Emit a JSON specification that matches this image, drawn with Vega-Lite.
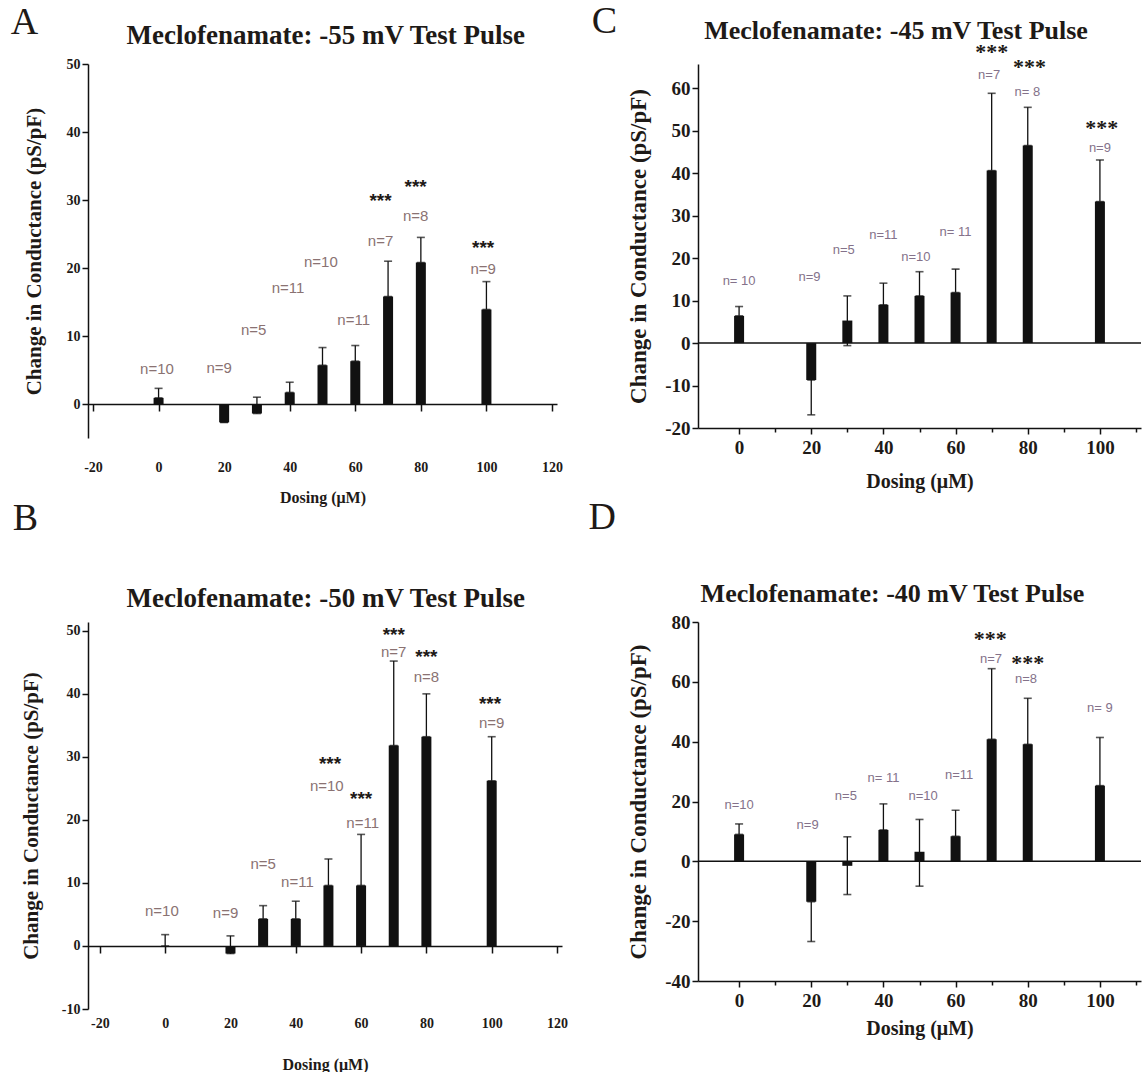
{
  "$schema": "https://vega.github.io/schema/vega-lite/v6.json",
  "background": "white",
  "padding": {"left": 10, "top": 2, "right": 0, "bottom": 0},
  "datasets": {
    "A": [
      {"dose": 0, "mean": 0.9, "lo": 0.9, "hi": 2.3, "n": "n=10", "nx": -0.5, "ny": 5.1, "sx": null, "sy": null},
      {"dose": 20, "mean": -2.7, "lo": -2.7, "hi": -2.7, "n": "n=9", "nx": 18.5, "ny": 5.3, "sx": null, "sy": null},
      {"dose": 30, "mean": -1.4, "lo": -1.4, "hi": 1.0, "n": "n=5", "nx": 29, "ny": 10.9, "sx": null, "sy": null},
      {"dose": 40, "mean": 1.7, "lo": 1.7, "hi": 3.2, "n": "n=11", "nx": 39.5, "ny": 17, "sx": null, "sy": null},
      {"dose": 50, "mean": 5.7, "lo": 5.7, "hi": 8.3, "n": "n=10", "nx": 49.5, "ny": 20.9, "sx": null, "sy": null},
      {"dose": 60, "mean": 6.3, "lo": 6.3, "hi": 8.6, "n": "n=11", "nx": 59.5, "ny": 12.4, "sx": null, "sy": null},
      {"dose": 70, "mean": 15.8, "lo": 15.8, "hi": 21.0, "n": "n=7", "nx": 67.7, "ny": 24, "sx": 67.7, "sy": 29.8},
      {"dose": 80, "mean": 20.8, "lo": 20.8, "hi": 24.5, "n": "n=8", "nx": 78.4, "ny": 27.7, "sx": 78.4, "sy": 31.9},
      {"dose": 100, "mean": 13.9, "lo": 13.9, "hi": 18.0, "n": "n=9", "nx": 99, "ny": 19.9, "sx": 99, "sy": 23}
    ],
    "B": [
      {"dose": 0, "mean": 0, "lo": 0, "hi": 1.8, "n": "n=10", "nx": -1, "ny": 5.6, "sx": null, "sy": null},
      {"dose": 20, "mean": -1.2, "lo": -1.2, "hi": 1.6, "n": "n=9", "nx": 18.5, "ny": 5.3, "sx": null, "sy": null},
      {"dose": 30, "mean": 4.3, "lo": 4.3, "hi": 6.4, "n": "n=5", "nx": 30, "ny": 13, "sx": null, "sy": null},
      {"dose": 40, "mean": 4.3, "lo": 4.3, "hi": 7.1, "n": "n=11", "nx": 40.5, "ny": 10.2, "sx": null, "sy": null},
      {"dose": 50, "mean": 9.6, "lo": 9.6, "hi": 13.8, "n": "n=10", "nx": 49.5, "ny": 25.4, "sx": 50.5, "sy": 28.9},
      {"dose": 60, "mean": 9.6, "lo": 9.6, "hi": 17.7, "n": "n=11", "nx": 60.5, "ny": 19.5, "sx": 60, "sy": 23.3},
      {"dose": 70, "mean": 31.8, "lo": 31.8, "hi": 45.2, "n": "n=7", "nx": 70, "ny": 46.6, "sx": 70, "sy": 49.4},
      {"dose": 80, "mean": 33.2, "lo": 33.2, "hi": 40.0, "n": "n=8", "nx": 80, "ny": 42.7, "sx": 80, "sy": 45.8},
      {"dose": 100, "mean": 26.2, "lo": 26.2, "hi": 33.2, "n": "n=9", "nx": 100, "ny": 35.4, "sx": 99.5, "sy": 38.4}
    ],
    "C": [
      {"dose": 0, "mean": 6.4, "lo": 6.4, "hi": 8.6, "n": "n= 10", "nx": 0, "ny": 14.5, "sx": null, "sy": null},
      {"dose": 20, "mean": -8.7, "lo": -16.9, "hi": -8.7, "n": "n=9", "nx": 19.5, "ny": 15.5, "sx": null, "sy": null},
      {"dose": 30, "mean": 5.3, "lo": -0.6, "hi": 11.1, "n": "n=5", "nx": 29, "ny": 21.9, "sx": null, "sy": null},
      {"dose": 40, "mean": 9.0, "lo": 9.0, "hi": 14.1, "n": "n=11", "nx": 40, "ny": 25.5, "sx": null, "sy": null},
      {"dose": 50, "mean": 11.1, "lo": 11.1, "hi": 16.8, "n": "n=10", "nx": 49, "ny": 20.2, "sx": null, "sy": null},
      {"dose": 60, "mean": 11.9, "lo": 11.9, "hi": 17.4, "n": "n= 11", "nx": 60, "ny": 26.2, "sx": null, "sy": null},
      {"dose": 70, "mean": 40.6, "lo": 40.6, "hi": 58.8, "n": "n=7", "nx": 69.3, "ny": 63.2, "sx": 70, "sy": 68.6},
      {"dose": 80, "mean": 46.5, "lo": 46.5, "hi": 55.5, "n": "n= 8", "nx": 79.9, "ny": 59.1, "sx": 80.5, "sy": 64.9},
      {"dose": 100, "mean": 33.3, "lo": 33.3, "hi": 43.1, "n": "n=9", "nx": 100, "ny": 46, "sx": 100.5, "sy": 50.7}
    ],
    "D": [
      {"dose": 0, "mean": 9.0, "lo": 9.0, "hi": 12.5, "n": "n=10", "nx": 0, "ny": 18.9, "sx": null, "sy": null},
      {"dose": 20, "mean": -13.5, "lo": -26.8, "hi": -13.5, "n": "n=9", "nx": 19, "ny": 12.1, "sx": null, "sy": null},
      {"dose": 30, "mean": -1.5, "lo": -11.1, "hi": 8.2, "n": "n=5", "nx": 29.6, "ny": 22, "sx": null, "sy": null},
      {"dose": 40, "mean": 10.5, "lo": 10.5, "hi": 19.2, "n": "n= 11", "nx": 40, "ny": 27.9, "sx": null, "sy": null},
      {"dose": 50, "mean": 3.2, "lo": -8.3, "hi": 14.0, "n": "n=10", "nx": 51, "ny": 21.8, "sx": null, "sy": null},
      {"dose": 60, "mean": 8.4, "lo": 8.4, "hi": 17.1, "n": "n=11", "nx": 61, "ny": 28.8, "sx": null, "sy": null},
      {"dose": 70, "mean": 40.8, "lo": 40.8, "hi": 64.4, "n": "n=7", "nx": 69.8, "ny": 67.7, "sx": 69.6, "sy": 74.3},
      {"dose": 80, "mean": 39.1, "lo": 39.1, "hi": 54.5, "n": "n=8", "nx": 79.5, "ny": 60.9, "sx": 80, "sy": 66.3},
      {"dose": 100, "mean": 25.3, "lo": 25.3, "hi": 41.4, "n": "n= 9", "nx": 100, "ny": 51.4, "sx": null, "sy": null}
    ]
  },
  "columns": 2,
  "bounds": "flush",
  "align": "each",
  "spacing": {"row": 184, "column": 136},
  "concat": [
    {
      "width": 469, "height": 374,
      "data": {"name": "A"},
      "layer": [
        {
          "mark": {"type": "bar", "orient": "vertical", "size": 10, "color": "#111111"},
          "encoding": {
            "x": {"field": "dose", "type": "quantitative", "scale": {"domain": [-20, 120], "nice": false, "zero": false},
              "axis": {"values": [-20, 0, 20, 40, 60, 80, 100, 120], "labelExpr": "'' + datum.value", "labelOverlap": false, "offset": -34, "tickSize": 7, "labelPadding": 49, "labelFontSize": 14, "title": "Dosing  (μM)", "titleFontSize": 16, "titlePadding": 15}},
            "y": {"field": "mean", "type": "quantitative", "scale": {"domain": [-5, 50], "nice": false, "zero": false},
              "axis": {"values": [0, 5, 10, 15, 20, 25, 30, 35, 40, 45, 50], "labelExpr": "datum.value % 10 === 0 ? '' + datum.value : ''", "labelOverlap": false, "tickSize": {"condition": {"test": "datum.value % 10 === 0", "value": 6}, "value": 3}, "labelFontSize": 14, "title": "Change in Conductance (pS/pF)", "titleFontSize": 21, "titlePadding": 22}},
            "y2": {"datum": 0}
          }
        },
        {"mark": {"type": "rule", "color": "#111111", "strokeWidth": 1.3}, "encoding": {"x": {"field": "dose", "type": "quantitative"}, "y": {"field": "lo", "type": "quantitative"}, "y2": {"field": "hi"}}},
        {"mark": {"type": "tick", "orient": "horizontal", "size": 8, "thickness": 1.6, "color": "#111111"}, "encoding": {"x": {"field": "dose", "type": "quantitative"}, "y": {"field": "hi", "type": "quantitative"}}},
        {"mark": {"type": "tick", "orient": "horizontal", "size": 8, "thickness": 1.6, "color": "#111111"}, "encoding": {"x": {"field": "dose", "type": "quantitative"}, "y": {"field": "lo", "type": "quantitative"}}},
        {"mark": {"type": "text", "font": "Liberation Sans", "fontSize": 15, "color": "#8a7272"}, "encoding": {"x": {"field": "nx", "type": "quantitative"}, "y": {"field": "ny", "type": "quantitative"}, "text": {"field": "n"}}},
        {"transform": [{"filter": "datum.sy != null"}], "mark": {"type": "text", "font": "Liberation Sans", "fontWeight": "bold", "fontSize": 19, "color": "#1e1a17"}, "encoding": {"x": {"field": "sx", "type": "quantitative"}, "y": {"field": "sy", "type": "quantitative"}, "text": {"value": "***"}}},
        {"data": {"values": [{}]}, "mark": {"type": "text", "font": "Liberation Serif", "fontSize": 38, "color": "#1e1a17"}, "encoding": {"x": {"datum": -40.9}, "y": {"datum": 56.0}, "text": {"value": "A"}}},
        {"data": {"values": [{}]}, "mark": {"type": "text", "font": "Liberation Serif", "fontWeight": "bold", "fontSize": 27, "color": "#1e1a17"}, "encoding": {"x": {"datum": 51.0}, "y": {"datum": 54.1}, "text": {"value": "Meclofenamate:  -55 mV Test Pulse"}}}
      ]
    },
    {
      "width": 443, "height": 364,
      "data": {"name": "C"},
      "layer": [
        {"data": {"values": [{}]}, "mark": {"type": "rule", "color": "#111111", "strokeWidth": 1.5}, "encoding": {"y": {"datum": 0}}},
        {
          "mark": {"type": "bar", "orient": "vertical", "size": 10, "color": "#111111"},
          "encoding": {
            "x": {"field": "dose", "type": "quantitative", "scale": {"domain": [-10, 110], "nice": false, "zero": false},
              "axis": {"values": [0, 10, 20, 30, 40, 50, 60, 70, 80, 90, 100, 110], "labelExpr": "datum.value % 20 === 0 && datum.value <= 100 ? '' + datum.value : ''", "labelOverlap": false, "labelFlush": false, "tickSize": {"condition": {"test": "datum.value % 20 === 0", "value": 6}, "value": 4}, "labelPadding": 4, "labelFontSize": 19, "title": "Dosing (μM)", "titleFontSize": 20, "titlePadding": 14}},
            "y": {"field": "mean", "type": "quantitative", "scale": {"domain": [-20, 65.7], "nice": false, "zero": false},
              "axis": {"values": [-20, -15, -10, -5, 0, 5, 10, 15, 20, 25, 30, 35, 40, 45, 50, 55, 60, 65], "labelExpr": "datum.value % 10 === 0 ? '' + datum.value : ''", "labelOverlap": false, "tickSize": {"condition": {"test": "datum.value % 10 === 0", "value": 6}, "value": 3}, "labelFontSize": 19, "title": "Change in Conductance (pS/pF)", "titleFontSize": 23, "titlePadding": 14}},
            "y2": {"datum": 0}
          }
        },
        {"mark": {"type": "rule", "color": "#111111", "strokeWidth": 1.3}, "encoding": {"x": {"field": "dose", "type": "quantitative"}, "y": {"field": "lo", "type": "quantitative"}, "y2": {"field": "hi"}}},
        {"mark": {"type": "tick", "orient": "horizontal", "size": 8, "thickness": 1.6, "color": "#111111"}, "encoding": {"x": {"field": "dose", "type": "quantitative"}, "y": {"field": "hi", "type": "quantitative"}}},
        {"mark": {"type": "tick", "orient": "horizontal", "size": 8, "thickness": 1.6, "color": "#111111"}, "encoding": {"x": {"field": "dose", "type": "quantitative"}, "y": {"field": "lo", "type": "quantitative"}}},
        {"mark": {"type": "text", "font": "Liberation Sans", "fontSize": 13, "color": "#84728a"}, "encoding": {"x": {"field": "nx", "type": "quantitative"}, "y": {"field": "ny", "type": "quantitative"}, "text": {"field": "n"}}},
        {"transform": [{"filter": "datum.sy != null"}], "mark": {"type": "text", "font": "Liberation Serif", "fontWeight": "bold", "fontSize": 22, "color": "#1e1a17"}, "encoding": {"x": {"field": "sx", "type": "quantitative"}, "y": {"field": "sy", "type": "quantitative"}, "text": {"value": "***"}}},
        {"data": {"values": [{}]}, "mark": {"type": "text", "font": "Liberation Serif", "fontSize": 38, "color": "#1e1a17"}, "encoding": {"x": {"datum": -37.3}, "y": {"datum": 75.6}, "text": {"value": "C"}}},
        {"data": {"values": [{}]}, "mark": {"type": "text", "font": "Liberation Serif", "fontWeight": "bold", "fontSize": 26, "color": "#1e1a17"}, "encoding": {"x": {"datum": 43.5}, "y": {"datum": 73.5}, "text": {"value": "Meclofenamate:  -45 mV Test Pulse"}}}
      ]
    },
    {
      "width": 474, "height": 387,
      "data": {"name": "B"},
      "layer": [
        {
          "mark": {"type": "bar", "orient": "vertical", "size": 10, "color": "#111111"},
          "encoding": {
            "x": {"field": "dose", "type": "quantitative", "scale": {"domain": [-22.1, 120], "nice": false, "zero": false},
              "axis": {"values": [-20, 0, 20, 40, 60, 80, 100, 120], "labelExpr": "'' + datum.value", "labelOverlap": false, "offset": -63, "tickSize": 7, "labelPadding": 63, "labelFontSize": 14, "title": "Dosing  (μM)", "titleFontSize": 16, "titlePadding": 26}},
            "y": {"field": "mean", "type": "quantitative", "scale": {"domain": [-10, 51.4], "nice": false, "zero": false},
              "axis": {"values": [-10, -5, 0, 5, 10, 15, 20, 25, 30, 35, 40, 45, 50], "labelExpr": "datum.value % 10 === 0 ? '' + datum.value : ''", "labelOverlap": false, "tickSize": {"condition": {"test": "datum.value % 10 === 0", "value": 6}, "value": 3}, "labelFontSize": 14, "title": "Change in Conductance (pS/pF)", "titleFontSize": 21, "titlePadding": 20}},
            "y2": {"datum": 0}
          }
        },
        {"mark": {"type": "rule", "color": "#111111", "strokeWidth": 1.3}, "encoding": {"x": {"field": "dose", "type": "quantitative"}, "y": {"field": "lo", "type": "quantitative"}, "y2": {"field": "hi"}}},
        {"mark": {"type": "tick", "orient": "horizontal", "size": 8, "thickness": 1.6, "color": "#111111"}, "encoding": {"x": {"field": "dose", "type": "quantitative"}, "y": {"field": "hi", "type": "quantitative"}}},
        {"mark": {"type": "tick", "orient": "horizontal", "size": 8, "thickness": 1.6, "color": "#111111"}, "encoding": {"x": {"field": "dose", "type": "quantitative"}, "y": {"field": "lo", "type": "quantitative"}}},
        {"mark": {"type": "text", "font": "Liberation Sans", "fontSize": 15, "color": "#8a7272"}, "encoding": {"x": {"field": "nx", "type": "quantitative"}, "y": {"field": "ny", "type": "quantitative"}, "text": {"field": "n"}}},
        {"transform": [{"filter": "datum.sy != null"}], "mark": {"type": "text", "font": "Liberation Sans", "fontWeight": "bold", "fontSize": 19, "color": "#1e1a17"}, "encoding": {"x": {"field": "sx", "type": "quantitative"}, "y": {"field": "sy", "type": "quantitative"}, "text": {"value": "***"}}},
        {"data": {"values": [{}]}, "mark": {"type": "text", "font": "Liberation Serif", "fontSize": 38, "color": "#1e1a17"}, "encoding": {"x": {"datum": -42.8}, "y": {"datum": 67.7}, "text": {"value": "B"}}},
        {"data": {"values": [{}]}, "mark": {"type": "text", "font": "Liberation Serif", "fontWeight": "bold", "fontSize": 27, "color": "#1e1a17"}, "encoding": {"x": {"datum": 49.2}, "y": {"datum": 55.1}, "text": {"value": "Meclofenamate:  -50 mV Test Pulse"}}}
      ]
    },
    {
      "width": 443, "height": 359,
      "data": {"name": "D"},
      "layer": [
        {"data": {"values": [{}]}, "mark": {"type": "rule", "color": "#111111", "strokeWidth": 1.5}, "encoding": {"y": {"datum": 0}}},
        {
          "mark": {"type": "bar", "orient": "vertical", "size": 10, "color": "#111111"},
          "encoding": {
            "x": {"field": "dose", "type": "quantitative", "scale": {"domain": [-10, 110], "nice": false, "zero": false},
              "axis": {"values": [0, 10, 20, 30, 40, 50, 60, 70, 80, 90, 100, 110], "labelExpr": "datum.value % 20 === 0 && datum.value <= 100 ? '' + datum.value : ''", "labelOverlap": false, "labelFlush": false, "tickSize": {"condition": {"test": "datum.value % 20 === 0", "value": 6}, "value": 4}, "labelPadding": 4, "labelFontSize": 19, "title": "Dosing (μM)", "titleFontSize": 20, "titlePadding": 8}},
            "y": {"field": "mean", "type": "quantitative", "scale": {"domain": [-40, 80], "nice": false, "zero": false},
              "axis": {"values": [-40, -30, -20, -10, 0, 10, 20, 30, 40, 50, 60, 70, 80], "labelExpr": "datum.value % 20 === 0 ? '' + datum.value : ''", "labelOverlap": false, "tickSize": {"condition": {"test": "datum.value % 20 === 0", "value": 6}, "value": 3}, "labelFontSize": 19, "title": "Change in Conductance (pS/pF)", "titleFontSize": 23, "titlePadding": 14}},
            "y2": {"datum": 0}
          }
        },
        {"mark": {"type": "rule", "color": "#111111", "strokeWidth": 1.3}, "encoding": {"x": {"field": "dose", "type": "quantitative"}, "y": {"field": "lo", "type": "quantitative"}, "y2": {"field": "hi"}}},
        {"mark": {"type": "tick", "orient": "horizontal", "size": 8, "thickness": 1.6, "color": "#111111"}, "encoding": {"x": {"field": "dose", "type": "quantitative"}, "y": {"field": "hi", "type": "quantitative"}}},
        {"mark": {"type": "tick", "orient": "horizontal", "size": 8, "thickness": 1.6, "color": "#111111"}, "encoding": {"x": {"field": "dose", "type": "quantitative"}, "y": {"field": "lo", "type": "quantitative"}}},
        {"mark": {"type": "text", "font": "Liberation Sans", "fontSize": 13, "color": "#84728a"}, "encoding": {"x": {"field": "nx", "type": "quantitative"}, "y": {"field": "ny", "type": "quantitative"}, "text": {"field": "n"}}},
        {"transform": [{"filter": "datum.sy != null"}], "mark": {"type": "text", "font": "Liberation Serif", "fontWeight": "bold", "fontSize": 22, "color": "#1e1a17"}, "encoding": {"x": {"field": "sx", "type": "quantitative"}, "y": {"field": "sy", "type": "quantitative"}, "text": {"value": "***"}}},
        {"data": {"values": [{}]}, "mark": {"type": "text", "font": "Liberation Serif", "fontSize": 38, "color": "#1e1a17"}, "encoding": {"x": {"datum": -37.9}, "y": {"datum": 114.8}, "text": {"value": "D"}}},
        {"data": {"values": [{}]}, "mark": {"type": "text", "font": "Liberation Serif", "fontWeight": "bold", "fontSize": 26, "color": "#1e1a17"}, "encoding": {"x": {"datum": 42.5}, "y": {"datum": 89.4}, "text": {"value": "Meclofenamate:  -40 mV Test Pulse"}}}
      ]
    }
  ],
  "config": {
    "view": {"stroke": null},
    "axis": {"grid": false, "labelOverlap": false, "domainColor": "#111111", "tickColor": "#111111", "domainWidth": 1.5, "tickWidth": 1.5, "labelColor": "#1e1a17", "titleColor": "#1e1a17", "labelFont": "Liberation Serif", "titleFont": "Liberation Serif", "labelFontWeight": "bold", "titleFontWeight": "bold"}
  }
}
